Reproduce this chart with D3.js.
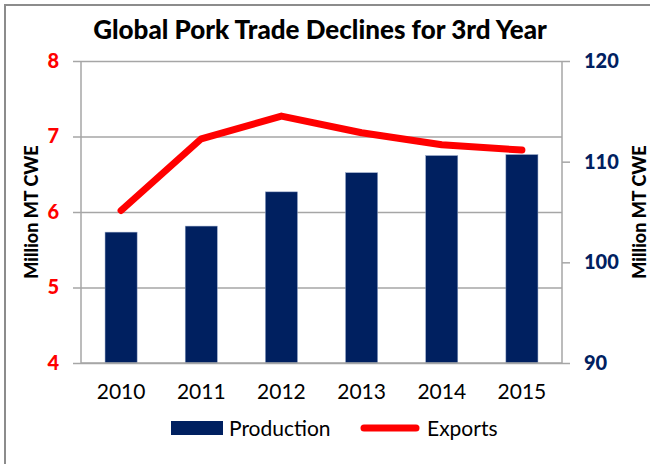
<!DOCTYPE html>
<html>
<head>
<meta charset="utf-8">
<script src="https://cdn.jsdelivr.net/npm/d3@7"></script>
<style>
  body { margin: 0; background: #fff; }
  svg { display: block; }
</style>
</head>
<body>
<svg id="chart" width="650" height="464"></svg>
<script>
// data
const years = ["2010", "2011", "2012", "2013", "2014", "2015"]
const production = [103.0, 103.6, 107.0, 108.9, 110.6, 110.7]
const exports = [6.02, 6.97, 7.27, 7.05, 6.89, 6.82]
const leftTicks = [4, 5, 6, 7, 8]
const rightTicks = [90, 100, 110, 120]

const navy = "#002060"
const red = "#ff0000"
const grid = "#a6a6a6"
const font = "Lato, 'Open Sans', sans-serif"

const margin = {top: 61, right: 88, bottom: 101, left: 81}
const width = 650, height = 464

const svg = d3.select("#chart")

// chart frame
svg.append("rect")
    .attr("x", 5).attr("y", 5)
    .attr("width", width + 10).attr("height", height + 10)
    .attr("fill", "none")
    .attr("stroke", "#8c8c8c")
    .attr("stroke-width", 2)

let x = d3.scaleBand()
    .domain(years)
    .range([margin.left, width - margin.right])
    .paddingInner(0.6)
    .paddingOuter(0.3)

let yLeft = d3.scaleLinear()
    .domain([4, 8])
    .range([height - margin.bottom, margin.top])

let yRight = d3.scaleLinear()
    .domain([90, 120])
    .range([height - margin.bottom, margin.top])

// gridlines + left axis
svg.append("g")
    .attr("transform", `translate(${margin.left},0)`)
    .call(d3.axisLeft(yLeft).tickValues(leftTicks).tickSize(8).tickPadding(14).tickFormat(d3.format("d")))
    .call(g => g.select(".domain").remove())
    .call(g => g.selectAll(".tick line").attr("stroke", grid).attr("stroke-width", 1.5))
    .call(g => g.selectAll(".tick").append("line")
        .attr("x1", 0).attr("x2", width - margin.right - margin.left)
        .attr("stroke", grid).attr("stroke-width", 1.5))
    .call(g => g.selectAll(".tick text")
        .attr("fill", red)
        .attr("font-family", font)
        .attr("font-weight", 900)
        .attr("font-size", 20))

svg.append("g")
    .attr("transform", `translate(${width - margin.right},0)`)
    .call(d3.axisRight(yRight).tickValues(rightTicks).tickSize(8).tickPadding(14))
    .call(g => g.select(".domain").remove())
    .call(g => g.selectAll(".tick line").attr("stroke", grid).attr("stroke-width", 1.5))
    .call(g => g.selectAll(".tick text")
        .attr("fill", navy)
        .attr("font-family", font)
        .attr("font-weight", 900)
        .attr("font-size", 20))

// bars
svg.append("g")
    .selectAll("rect")
    .data(production)
    .join("rect")
    .attr("fill", navy)
    .attr("stroke", "#8ea0c4")
    .attr("stroke-width", 0.5)
    .attr("x", (d, i) => x(years[i]))
    .attr("y", d => yRight(d))
    .attr("width", x.bandwidth())
    .attr("height", d => yRight(90) - yRight(d))

// axis frame lines
const frame = svg.append("g").attr("stroke", grid).attr("stroke-width", 1.5)
frame.append("line")
    .attr("x1", margin.left).attr("x2", margin.left)
    .attr("y1", margin.top).attr("y2", height - margin.bottom)
frame.append("line")
    .attr("x1", width - margin.right).attr("x2", width - margin.right)
    .attr("y1", margin.top).attr("y2", height - margin.bottom)
frame.append("line")
    .attr("x1", margin.left).attr("x2", width - margin.right)
    .attr("y1", height - margin.bottom).attr("y2", height - margin.bottom)

// exports line
let line = d3.line()
    .x((d, i) => x(years[i]) + x.bandwidth() / 2)
    .y(d => yLeft(d))

svg.append("path")
    .datum(exports)
    .attr("fill", "none")
    .attr("stroke", red)
    .attr("stroke-width", 7)
    .attr("stroke-linejoin", "round")
    .attr("stroke-linecap", "round")
    .attr("d", line)

// year labels
svg.append("g")
    .attr("transform", `translate(0,${height - margin.bottom})`)
    .call(d3.axisBottom(x).tickSize(0).tickPadding(21))
    .call(g => g.select(".domain").remove())
    .call(g => g.selectAll(".tick text")
        .attr("fill", "#000")
        .attr("font-family", font)
        .attr("font-size", 21))

// title
svg.append("text")
    .attr("x", 320).attr("y", 39)
    .attr("text-anchor", "middle")
    .attr("font-family", font)
    .attr("font-weight", 900)
    .attr("font-size", 26)
    .text("Global Pork Trade Declines for 3rd Year")

// axis titles
svg.append("text")
    .attr("transform", `translate(38,${(margin.top + height - margin.bottom) / 2}) rotate(-90)`)
    .attr("text-anchor", "middle")
    .attr("font-family", font)
    .attr("font-weight", 900)
    .attr("font-size", 18)
    .text("Million MT CWE")

svg.append("text")
    .attr("transform", `translate(646,${(margin.top + height - margin.bottom) / 2}) rotate(-90)`)
    .attr("text-anchor", "middle")
    .attr("font-family", font)
    .attr("font-weight", 900)
    .attr("font-size", 18)
    .text("Million MT CWE")

// legend
const legend = svg.append("g").attr("font-family", font).attr("font-size", 21)
legend.append("rect")
    .attr("x", 171).attr("y", 421).attr("width", 52).attr("height", 14)
    .attr("fill", navy)
legend.append("text")
    .attr("x", 229).attr("y", 436)
    .text("Production")
legend.append("line")
    .attr("x1", 364).attr("x2", 416).attr("y1", 428).attr("y2", 428)
    .attr("stroke", red).attr("stroke-width", 7).attr("stroke-linecap", "round")
legend.append("text")
    .attr("x", 427).attr("y", 436)
    .text("Exports")
</script>
</body>
</html>
